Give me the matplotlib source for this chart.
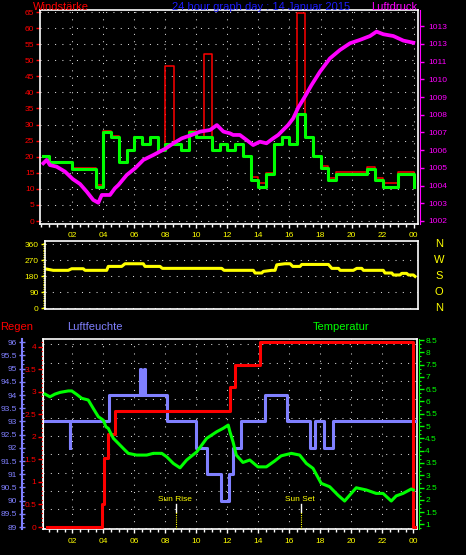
import numpy as np
import matplotlib
matplotlib.use('Agg')
import matplotlib.pyplot as plt
from matplotlib.ticker import MultipleLocator

plt.rcParams['font.family'] = ['Liberation Sans', 'DejaVu Sans']
plt.rcParams['font.size'] = 6

# --- data (hours since midnight) ---
wind_hours = [0.1, 0.5, 2.0, 3.5, 4.0, 4.5, 5.0, 5.5, 6.0, 6.5, 7.0, 7.5, 8.0, 9.0, 9.5, 10.0,
              11.0, 11.5, 12.0, 12.5, 13.0, 13.5, 14.0, 14.5, 15.0, 15.5, 16.0, 16.5, 17.0, 17.5,
              18.0, 18.5, 19.0, 21.0, 21.5, 22.0, 23.0, 24.0, 24.05]
wind_kmh = [20.1, 18.2, 16.2, 10.6, 27.8, 26.0, 18.2, 22.0, 26.0, 23.9, 26.0, 22.0, 23.9, 22.0, 27.8, 26.0,
            22.0, 23.9, 22.0, 23.9, 20.1, 12.6, 10.7, 14.6, 23.9, 26.0, 23.9, 33.4, 26.0, 20.1,
            16.5, 12.6, 14.6, 16.3, 12.6, 10.7, 14.6, 10.7, 10.7]

gust_hours = [0.1, 0.5, 2.0, 3.5, 4.0, 4.5, 5.0, 5.5, 6.0, 6.5, 7.0, 7.5, 8.0, 8.55, 9.0, 9.5, 10.0,
              10.5, 11.0, 11.5, 12.0, 12.5, 13.0, 13.5, 14.0, 14.5, 15.0, 15.5, 16.0, 16.5, 17.0,
              17.5, 18.0, 18.5, 19.0, 21.0, 21.5, 22.0, 23.0, 24.0, 24.05]
gust_kmh = [20.3, 18.4, 16.4, 11.2, 28.1, 26.3, 18.4, 22.2, 26.2, 24.1, 26.2, 22.2, 48.3, 24.1, 22.2, 28.0, 26.2,
            51.8, 22.2, 24.1, 22.2, 24.1, 20.3, 13.6, 11.7, 15.0, 24.1, 26.2, 24.1, 64.6, 26.2,
            20.3, 17.2, 13.4, 15.2, 16.8, 13.4, 11.7, 15.2, 11.0, 11.0]

pres_hours = [0.13, 0.35, 0.56, 0.99, 1.53, 2.03, 2.50, 2.93, 3.35, 3.68, 3.90, 4.43, 4.75, 4.97,
              5.51, 6.05, 6.58, 7.23, 8.03, 8.52, 9.06, 9.70, 10.24, 10.88, 11.32, 11.74, 12.17,
              12.37, 12.80, 13.23, 13.66, 14.09, 14.52, 14.95, 15.27, 15.59, 15.91, 16.24, 16.56,
              16.99, 17.42, 17.96, 18.61, 19.25, 19.90, 20.54, 21.19, 21.61, 22.05, 22.69, 23.34, 23.98]
pres_hpa = [1005.26, 1005.45, 1005.16, 1005.07, 1004.79, 1004.37, 1004.09, 1003.66, 1003.19, 1003.03,
            1003.47, 1003.47, 1003.85, 1004.03, 1004.60, 1004.98, 1005.45, 1005.73, 1006.10, 1006.39,
            1006.67, 1006.86, 1007.05, 1007.14, 1007.42, 1007.05, 1006.95, 1006.86, 1006.86, 1006.58,
            1006.29, 1006.48, 1006.39, 1006.67, 1006.86, 1007.14, 1007.42, 1007.80, 1008.40, 1009.02,
            1009.68, 1010.43, 1011.19, 1011.66, 1012.04, 1012.23, 1012.45, 1012.70, 1012.55, 1012.45,
            1012.19, 1012.07]

dir_hours = [0.35, 0.77, 1.74, 1.96, 2.71, 2.82, 4.22, 4.32, 5.19, 5.40, 6.58, 6.69, 7.66, 7.81,
             11.64, 11.79, 13.68, 13.79, 14.22, 14.32, 14.86, 15.08, 15.19, 15.72, 16.05, 16.22,
             16.69, 16.80, 18.52, 18.74, 19.17, 19.28, 20.13, 20.35, 20.67, 20.78, 22.06, 22.17,
             22.61, 22.71, 23.14, 23.25, 23.57, 23.68, 24.00, 24.11]
dir_deg = [221, 214, 214, 223, 223, 214, 214, 236, 236, 251, 251, 236, 236, 225,
           225, 214, 214, 199, 199, 208, 214, 214, 245, 251, 251, 236,
           236, 247, 247, 225, 225, 214, 214, 225, 225, 214, 214, 199,
           199, 188, 188, 197, 197, 188, 188, 180]

hum_hours = [0.24, 1.82, 1.88, 4.37, 6.37, 6.45, 6.60, 6.68, 8.09, 9.98, 10.71, 11.57, 12.13,
             12.37, 12.90, 14.45, 15.85, 17.35, 17.64, 18.22, 18.82, 24.15]
hum_pct = [93, 92, 93, 94, 95, 94, 95, 94, 93, 92, 91, 90, 91,
           92, 93, 94, 93, 92, 93, 92, 93, 93]

rain_hours = [0.35, 3.94, 4.06, 4.32, 4.75, 12.17, 12.48, 14.09, 23.98, 24.15]
rain_mm = [0.0, 0.5, 1.52, 2.06, 2.57, 3.10, 3.59, 4.10, 0.0, 0.0]

temp_hours = [0.24, 0.56, 0.88, 1.21, 1.74, 1.96, 2.28, 2.61, 3.03, 3.35, 3.68, 4.00, 4.17, 4.32,
              4.65, 5.29, 5.61, 6.15, 6.80, 7.23, 7.77, 8.09, 8.52, 8.95, 9.38, 10.03, 10.67,
              11.32, 11.74, 12.06, 12.17, 12.37, 12.58, 13.01, 13.45, 13.98, 14.52, 15.06, 15.48,
              16.13, 16.67, 17.10, 17.53, 18.06, 18.61, 19.14, 19.57, 19.90, 20.32, 20.97, 21.61,
              22.05, 22.58, 22.90, 23.34, 23.87, 24.00]
temp_c = [6.30, 6.19, 6.30, 6.37, 6.43, 6.43, 6.29, 6.13, 6.06, 5.72, 5.38, 5.24, 4.97, 4.91,
          4.50, 4.09, 3.89, 3.82, 3.82, 3.89, 3.89, 3.75, 3.48, 3.30, 3.62, 3.95, 4.50,
          4.77, 4.91, 5.04, 4.77, 4.36, 3.82, 3.52, 3.62, 3.34, 3.34, 3.58, 3.79,
          3.89, 3.82, 3.48, 3.28, 2.67, 2.53, 2.19, 1.95, 2.19, 2.49, 2.40, 2.26,
          2.26, 1.95, 2.16, 2.26, 2.44, 2.40]

sun_rise = 8.67
sun_set = 16.77

hour_ticks = list(range(2, 25, 2))
hour_labels = ['02', '04', '06', '08', '10', '12', '14', '16', '18', '20', '22', '00']
wind_ticks = list(range(0, 66, 5))
pres_ticks = list(range(1002, 1014))
pres_labels = ['1002', '1003', '1004', '1005', '1006', '1007', '1008', '1009', '1010', '1011', '1013', '1013']
dir_ticks = [0, 90, 180, 270, 360]
compass = ['N', 'O', 'S', 'W', 'N']
rain_ticks = [0, 0.5, 1, 1.5, 2, 2.5, 3, 3.5, 4]
rain_labels = ['0', '0.5', '1', '1.5', '2', '2.5', '3', '3.5', '4']
hum_ticks = [89, 89.5, 90, 90.5, 91, 91.5, 92, 92.5, 93, 93.5, 94, 94.5, 95, 95.5, 96]
hum_labels = ['89', '89.5', '90', '90.5', '91', '91.5', '92', '92.5', '93', '93.5', '94', '94.5', '95', '95.5', '96']
temp_ticks = [1, 1.5, 2, 2.5, 3, 3.5, 4, 4.5, 5, 5.5, 6, 6.5, 7, 7.5, 8, 8.5]
temp_labels = ['1', '1.5', '2', '2.5', '3', '3.5', '4', '4.5', '5', '5.5', '6', '6.5', '7', '7.5', '8', '8.5']

RED = '#ff0000'
GREEN = '#00ff00'
MAGENTA = '#ff00ff'
YELLOW = '#ffff00'
BLUE = '#1c1cff'
HUM = '#8080ff'

W, H = 466, 555
fig = plt.figure(figsize=(W / 100, H / 100), dpi=100, facecolor='black')


def box(l, t, r, b):
    return [l / W, 1 - b / H, (r - l) / W, (b - t) / H]


grid_kw = dict(color='#d8d8d8', linewidth=0.75, linestyle=(0, (1, 6)))


def white_frame(ax):
    ax.set_facecolor('black')
    for s in ax.spines.values():
        s.set_color('white')
        s.set_linewidth(1.2)


def hour_axis(ax):
    ax.set_xticks(hour_ticks)
    ax.set_xticklabels(hour_labels)
    ax.xaxis.set_minor_locator(MultipleLocator(0.5))
    ax.tick_params(axis='x', which='major', color='white', labelcolor=YELLOW, length=3, width=1, pad=3)
    ax.tick_params(axis='x', which='minor', color='white', length=2, width=1)


def only_spine(ax, side):
    for s in ['top', 'bottom', 'left', 'right']:
        ax.spines[s].set_visible(s == side)


# ---------- top: wind + pressure ----------
ax1 = fig.add_axes(box(40, 10, 417.5, 224))
white_frame(ax1)
ax1.step(gust_hours, gust_kmh, where='post', color=RED, lw=1.1, zorder=2)
ax1.step(wind_hours, wind_kmh, where='post', color=GREEN, lw=2.2, zorder=3)
ax1.set_xlim(-0.08, 24.25)
ax1.set_ylim(-0.93, 65.63)
ax1.set_yticks(wind_ticks)
ax1.tick_params(axis='y', colors=RED, length=3, width=1, pad=1)
hour_axis(ax1)
ax1.grid(True, **grid_kw)

ax1p = ax1.twinx()
ax1p.plot(pres_hours, pres_hpa, color=MAGENTA, lw=2.7, zorder=4)
ax1p.set_ylim(1001.83, 1013.92)
ax1p.set_yticks(pres_ticks)
ax1p.set_yticklabels(pres_labels)
only_spine(ax1p, 'right')
ax1p.spines['right'].set_color(MAGENTA)
ax1p.spines['right'].set_position(('outward', 1.5))
ax1p.tick_params(axis='y', colors=MAGENTA, length=3, width=1, pad=3)

fig.text(33 / W, 1 - 10 / H, 'Windstärke', color=RED, fontsize=8, va='baseline')
fig.text(171.7 / W, 1 - 10 / H, '24 hour graph day : 14 Januar 2015', color=BLUE, fontsize=8, va='baseline')
fig.text(371.3 / W, 1 - 10 / H, 'Luftdruck', color=MAGENTA, fontsize=8, va='baseline')

# ---------- middle: wind direction ----------
ax2 = fig.add_axes(box(45, 241, 417.7, 309.3))
white_frame(ax2)
ax2.plot(dir_hours, dir_deg, color=YELLOW, lw=2.2)
ax2.set_xlim(0.24, 24.28)
ax2.set_ylim(-4.5, 378.5)
ax2.set_yticks(dir_ticks)
ax2.yaxis.set_minor_locator(MultipleLocator(10))
ax2.set_xticks([])
ax2.tick_params(axis='y', which='major', colors=YELLOW, length=3, width=1, pad=1.5)
ax2.tick_params(axis='y', which='minor', colors=YELLOW, length=1.5, width=0.8)
ax2.yaxis.grid(True, **grid_kw)
for d, lab in zip(dir_ticks, compass):
    ax2.text(1.057, d, lab, transform=ax2.get_yaxis_transform(), color=YELLOW,
             fontsize=8, ha='center', va='center')

# ---------- bottom: humidity, rain, temperature ----------
ax3 = fig.add_axes(box(43, 339.3, 417.3, 529.3))
white_frame(ax3)
ax3.set_xlim(0.11, 24.26)
ax3.set_ylim(-0.087, 10.28)
ax3.set_yticks(range(11))
ax3.tick_params(axis='y', length=0, labelleft=False)
hour_axis(ax3)
ax3.grid(True, **grid_kw)

axh = ax3.twinx()
axh.step(hum_hours, hum_pct, where='post', color=HUM, lw=2.2)
axh.set_ylim(88.913, 96.113)
axh.yaxis.tick_left()
axh.set_yticks(hum_ticks)
axh.set_yticklabels(hum_labels)
axh.yaxis.set_minor_locator(MultipleLocator(0.5 / 3))
only_spine(axh, 'left')
axh.spines['left'].set_color(HUM)
axh.spines['left'].set_linewidth(1.5)
axh.spines['left'].set_position(('outward', 15.3))
axh.tick_params(axis='y', which='major', colors=HUM, direction='inout', length=4, width=1, pad=1.5)
axh.tick_params(axis='y', which='minor', colors=HUM, direction='in', length=1.5, width=0.8)

axr = ax3.twinx()
axr.step(rain_hours, rain_mm, where='post', color=RED, lw=2.2)
axr.set_ylim(-0.051, 4.164)
axr.yaxis.tick_left()
axr.set_yticks(rain_ticks)
axr.set_yticklabels(rain_labels)
axr.yaxis.set_minor_locator(MultipleLocator(0.1))
only_spine(axr, 'left')
axr.spines['left'].set_color('white')
axr.tick_params(axis='y', which='major', colors=RED, length=3.5, width=1, pad=1.5)
axr.tick_params(axis='y', which='minor', colors=RED, length=1.3, width=0.8)

axt = ax3.twinx()
axt.plot(temp_hours, temp_c, color=GREEN, lw=2.2)
axt.set_ylim(0.80, 8.53)
axt.set_yticks(temp_ticks)
axt.set_yticklabels(temp_labels)
axt.yaxis.set_minor_locator(MultipleLocator(0.5 / 3))
only_spine(axt, 'right')
axt.spines['right'].set_color(GREEN)
axt.spines['right'].set_position(('outward', 1.2))
axt.tick_params(axis='y', which='major', colors=GREEN, length=3.5, width=1, pad=1)
axt.tick_params(axis='y', which='minor', colors=GREEN, length=1.5, width=0.8)

tr = ax3.get_xaxis_transform()
for h, lab in [(sun_rise, 'Sun Rise'), (sun_set, 'Sun Set')]:
    axt.text(h - 0.06, 0.149, lab, transform=tr, color=YELLOW, fontsize=6, ha='center', va='baseline')
    axt.plot([h, h], [0.091, 0.133], transform=tr, color='white', lw=1)
    axt.plot([h, h], [0.0, 0.091], transform=tr, color=YELLOW, lw=0.8, ls=(0, (1, 1)))

fig.text(0, 1 - 330.5 / H, 'Regen', color=RED, fontsize=8, va='baseline')
fig.text(66.7 / W, 1 - 330.5 / H, 'Luftfeuchte', color=HUM, fontsize=8, va='baseline')
fig.text(313 / W, 1 - 330.5 / H, 'Temperatur', color=GREEN, fontsize=8, va='baseline')

fig.savefig('out.png', dpi=100, facecolor='black')
